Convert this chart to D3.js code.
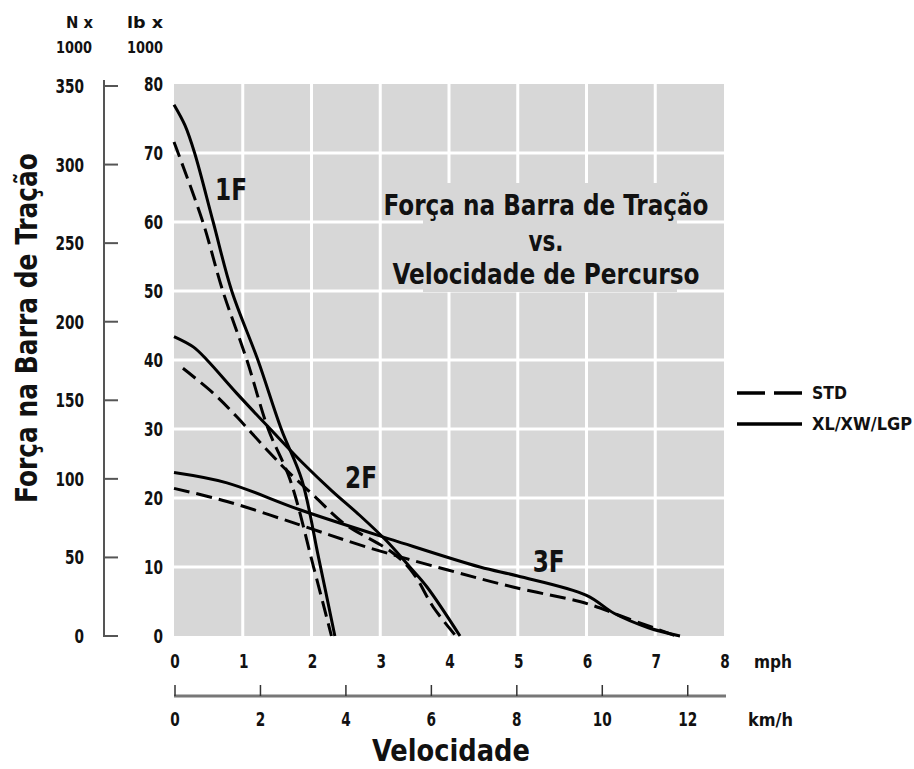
<!DOCTYPE html>
<html>
<head>
<meta charset="utf-8">
<script src="https://cdn.jsdelivr.net/npm/d3@7"></script>
<style>
  body { margin: 0; background: #fff; }
  svg text { font-family: "Liberation Sans Narrow", "DejaVu Sans Condensed", "Arial Narrow", sans-serif; font-weight: bold; fill: #111; }
</style>
</head>
<body>
<svg class="chart" width="914" height="769"></svg>
<script>
// speed in mph, drawbar pull in lb x 1000
const std1F = [[0,71.6],[0.06,70],[0.42,60],[0.71,50],[1.06,40],[1.37,30],[1.69,22.6],[2.03,10],[2.29,0]];
const xl1F  = [[0,77],[0.16,74],[0.3,70],[0.57,60],[0.84,50],[1.22,40],[1.56,30],[1.86,22.6],[2.1,11.5],[2.34,0]];
const std2F = [[0.13,38.8],[0.57,35.2],[0.91,31.8],[1.35,27],[1.64,24],[2.05,20.2],[2.46,16.4],[3.19,12],[3.48,9.1],[3.77,4.2],[4.1,0]];
const xl2F  = [[0,43.4],[0.28,41.9],[0.48,40],[0.91,35.2],[1.4,30],[1.88,25],[2.3,21],[2.7,17.5],[3.09,13.8],[3.43,10],[3.68,7.1],[4.16,0]];
const std3F = [[0,21.4],[0.77,19.5],[1.83,16.1],[2.8,12.9],[3.97,9.6],[4.93,7.1],[5.9,5.0],[6.1,4.4],[6.5,2.9],[7.0,1.1],[7.3,0]];
const xl3F  = [[0,23.7],[0.77,22.2],[1.83,18.3],[3.19,13.9],[4.45,10],[5.0,8.7],[6.0,5.9],[6.4,3.3],[6.9,1.2],[7.36,0]];

const gearLabels = [
  { text: "1F", mph: 0.83, lb: 63.2 },
  { text: "2F", mph: 2.72, lb: 21.4 },
  { text: "3F", mph: 5.45, lb: 9.3 }
];

const mphTicks = [0, 1, 2, 3, 4, 5, 6, 7, 8];
const kmhTicks = [0, 2, 4, 6, 8, 10, 12];
const lbTicks = [0, 10, 20, 30, 40, 50, 60, 70, 80];
const nTicks = [0, 50, 100, 150, 200, 250, 300, 350];

const svg = d3.select(".chart");

const x = d3.scaleLinear().domain([0, 8]).range([174, 724]);
const xKm = d3.scaleLinear().domain([0, 8 * 1.609]).range([174, 724]);
const y = d3.scaleLinear().domain([0, 80]).range([636, 84]);
const yN = d3.scaleLinear().domain([0, 350]).range([636, 86]);

// the fonts here are wider than the original condensed face, so squeeze text to width
const squeeze = (sel, perChar) => sel
  .attr("textLength", d => String(d).length * perChar)
  .attr("lengthAdjust", "spacingAndGlyphs");

// plot background and grid
svg.append("rect")
  .attr("x", x(0)).attr("y", y(80))
  .attr("width", x(8) - x(0)).attr("height", y(0) - y(80))
  .attr("fill", "#d7d7d7");

svg.selectAll(".vgrid").data(mphTicks.slice(1, -1)).enter()
  .append("line")
  .attr("x1", d => x(d)).attr("x2", d => x(d))
  .attr("y1", y(80)).attr("y2", y(0))
  .attr("stroke", "#fff").attr("stroke-width", 3);

svg.selectAll(".hgrid").data(lbTicks.slice(1, -1)).enter()
  .append("line")
  .attr("x1", x(0)).attr("x2", x(8))
  .attr("y1", d => y(d)).attr("y2", d => y(d))
  .attr("stroke", "#fff").attr("stroke-width", 3);

// gray patch behind the title
svg.append("rect")
  .attr("x", 423).attr("y", 183).attr("width", 254).attr("height", 109)
  .attr("fill", "#d7d7d7");

const title = [
  { t: "Força na Barra de Tração", yy: 215, w: 325 },
  { t: "vs.", yy: 251, w: 35 },
  { t: "Velocidade de Percurso", yy: 284, w: 307 }
];
svg.selectAll(".title").data(title).enter()
  .append("text")
  .attr("x", 546).attr("y", d => d.yy)
  .attr("text-anchor", "middle")
  .attr("textLength", d => d.w).attr("lengthAdjust", "spacingAndGlyphs")
  .style("font-size", "28px")
  .text(d => d.t);

// curves
const line = d3.line()
  .x(d => x(d[0]))
  .y(d => y(d[1]))
  .curve(d3.curveCatmullRom.alpha(0.5));

const curves = [
  { data: xl1F, dash: null }, { data: std1F, dash: "16,7" },
  { data: xl2F, dash: null }, { data: std2F, dash: "16,7" },
  { data: xl3F, dash: null }, { data: std3F, dash: "16,7" }
];
svg.selectAll(".curve").data(curves).enter()
  .append("path")
  .attr("d", d => line(d.data))
  .attr("fill", "none")
  .attr("stroke", "#000")
  .attr("stroke-width", 3)
  .attr("stroke-dasharray", d => d.dash);

svg.selectAll(".gear").data(gearLabels).enter()
  .append("text")
  .attr("x", d => x(d.mph)).attr("y", d => y(d.lb))
  .attr("text-anchor", "middle")
  .attr("textLength", 32).attr("lengthAdjust", "spacingAndGlyphs")
  .style("font-size", "30px")
  .text(d => d.text);

// left axes: N x 1000 and lb x 1000
svg.append("line")
  .attr("x1", 104).attr("x2", 104).attr("y1", 80).attr("y2", yN(0))
  .attr("stroke", "#555").attr("stroke-width", 2);
svg.selectAll(".ntick").data(nTicks).enter()
  .append("line")
  .attr("x1", 103).attr("x2", 118)
  .attr("y1", d => yN(d)).attr("y2", d => yN(d))
  .attr("stroke", "#555").attr("stroke-width", 2);
svg.selectAll(".nlabel").data(nTicks).enter()
  .append("text")
  .attr("x", 84).attr("y", d => yN(d) + 7)
  .attr("text-anchor", "end")
  .style("font-size", "20px")
  .text(d => d)
  .call(squeeze, 9.5);
svg.selectAll(".lblabel").data(lbTicks).enter()
  .append("text")
  .attr("x", 163).attr("y", d => y(d) + 7)
  .attr("text-anchor", "end")
  .style("font-size", "20px")
  .text(d => d)
  .call(squeeze, 9.5);

const heads = [
  { t: "N x", xx: 93, yy: 28 }, { t: "1000", xx: 92, yy: 53 },
  { t: "lb x", xx: 163, yy: 28 }, { t: "1000", xx: 163, yy: 53 }
];
svg.selectAll(".head").data(heads).enter()
  .append("text")
  .attr("x", d => d.xx).attr("y", d => d.yy)
  .attr("text-anchor", "end")
  .style("font-size", "16px")
  .attr("textLength", d => d.t.length * 9).attr("lengthAdjust", "spacingAndGlyphs")
  .text(d => d.t);

svg.append("text")
  .attr("transform", "translate(37,328) rotate(-90)")
  .attr("text-anchor", "middle")
  .attr("textLength", 350).attr("lengthAdjust", "spacingAndGlyphs")
  .style("font-size", "31px")
  .text("Força na Barra de Tração");

// bottom axes: mph and km/h
svg.selectAll(".mphlabel").data(mphTicks).enter()
  .append("text")
  .attr("x", d => x(d) + 1).attr("y", 668)
  .attr("text-anchor", "middle")
  .style("font-size", "20px")
  .text(d => d)
  .call(squeeze, 9.5);
svg.append("text").attr("x", 754).attr("y", 668)
  .attr("textLength", 38).attr("lengthAdjust", "spacingAndGlyphs")
  .style("font-size", "17px").text("mph");

svg.append("line")
  .attr("x1", xKm(0)).attr("x2", xKm(8 * 1.609) + 2)
  .attr("y1", 696).attr("y2", 696)
  .attr("stroke", "#777").attr("stroke-width", 3);
svg.selectAll(".kmtick").data(kmhTicks).enter()
  .append("line")
  .attr("x1", d => xKm(d) + 1).attr("x2", d => xKm(d) + 1)
  .attr("y1", 685).attr("y2", 696)
  .attr("stroke", "#333").attr("stroke-width", 1.5);
svg.selectAll(".kmlabel").data(kmhTicks).enter()
  .append("text")
  .attr("x", d => xKm(d) + 1).attr("y", 726)
  .attr("text-anchor", "middle")
  .style("font-size", "20px")
  .text(d => d)
  .call(squeeze, 9.5);
svg.append("text").attr("x", 748).attr("y", 726)
  .attr("textLength", 45).attr("lengthAdjust", "spacingAndGlyphs")
  .style("font-size", "17px").text("km/h");

svg.append("text")
  .attr("x", 451).attr("y", 761)
  .attr("text-anchor", "middle")
  .attr("textLength", 158).attr("lengthAdjust", "spacingAndGlyphs")
  .style("font-size", "30px")
  .text("Velocidade");

// legend
const legend = [
  { label: "STD", dash: "28,9", yy: 393, w: 35 },
  { label: "XL/XW/LGP", dash: null, yy: 424, w: 100 }
];
svg.selectAll(".legline").data(legend).enter()
  .append("line")
  .attr("x1", 737).attr("x2", 802)
  .attr("y1", d => d.yy).attr("y2", d => d.yy)
  .attr("stroke", "#000").attr("stroke-width", 3.5)
  .attr("stroke-dasharray", d => d.dash);
svg.selectAll(".legtext").data(legend).enter()
  .append("text")
  .attr("x", 812).attr("y", d => d.yy + 6)
  .attr("textLength", d => d.w).attr("lengthAdjust", "spacingAndGlyphs")
  .style("font-size", "17px")
  .text(d => d.label);
</script>
</body>
</html>
